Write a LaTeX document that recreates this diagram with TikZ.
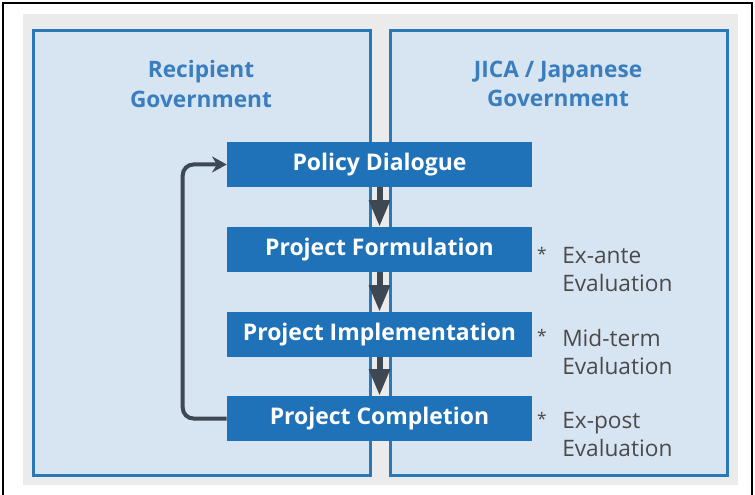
\documentclass[tikz,border=0pt]{standalone}
\usepackage{fontspec}
\setmainfont{Open Sans}
\usetikzlibrary{arrows.meta}
\definecolor{panelblue}{HTML}{D7E5F3}
\definecolor{edgeblue}{HTML}{2B78B8}
\definecolor{boxblue}{HTML}{1F72B8}
\definecolor{titleblue}{HTML}{3A7EBE}
\definecolor{bggray}{HTML}{EBEBEB}
\definecolor{arrowgray}{HTML}{3E4852}
\definecolor{labelgray}{HTML}{4A4A4A}
\tikzset{
	stagebox/.style={fill=boxblue, text=white, font=\bfseries\fontsize{17.2}{20}\selectfont, minimum width=228.75pt, minimum height=33.75pt, inner sep=0pt},
	panel/.style={draw=edgeblue, fill=panelblue, line width=2.25pt},
	paneltitle/.style={text=titleblue, align=center, font=\bfseries\fontsize{17}{22}\selectfont},
	evallabel/.style={text=labelgray, anchor=west, align=left, font=\fontsize{17}{21}\selectfont, inner sep=0pt},
	evalstar/.style={text=labelgray, font=\fontsize{13}{15}\selectfont, inner sep=0pt},
	flowarrow/.style={draw=arrowgray, line width=4.5pt, -{Triangle[length=20pt, width=15pt]}},
	backarrow/.style={draw=arrowgray, line width=3pt, rounded corners=8pt, -{Stealth[length=11pt, width=12pt]}}
}
\begin{document}
\begin{tikzpicture}[x=0.75pt, y=-0.75pt]
			\useasboundingbox (0,0) rectangle (755,495);
			\draw[line width=0.8pt] (3,495) -- (3,3) -- (752,3) -- (752,495);
			\fill[bggray] (23,14) rectangle (738,485);

			\draw[panel] (33,31) rectangle (370,475);
			\draw[panel] (390,31) rectangle (727,475);
				\node[paneltitle] (recipient) at (201,84){Recipient\\Government};
				\node[paneltitle] (jica) at (558,84){JICA / Japanese\\Government};

			\node[stagebox] (dialogue) at (379.5,164.5){Policy Dialogue};
			\node[stagebox] (formulation) at (379.5,249.5){Project Formulation};
			\node[stagebox] (implementation) at (379.5,334.5){Project Implementation};
			\node[stagebox] (completion) at (379.5,418.5){Project Completion};

				\draw[flowarrow] (dialogue.south) to (formulation.north);
				\draw[flowarrow] (formulation.south) to (implementation.north);
				\draw[flowarrow] (implementation.south) to (completion.north);
			\draw[backarrow] (completion.west) -- ++(-44,0) |- (dialogue.west);

			\node[evalstar] (stara) at (542,254){*};
			\node[evallabel] (exante) at (562,270){Ex-ante\\Evaluation};
			\node[evalstar] (starb) at (542,336){*};
			\node[evallabel] (midterm) at (562,352){Mid-term\\Evaluation};
			\node[evalstar] (starc) at (542,419){*};
			\node[evallabel] (expost) at (562,435){Ex-post\\Evaluation};
		\end{tikzpicture}
\end{document}
